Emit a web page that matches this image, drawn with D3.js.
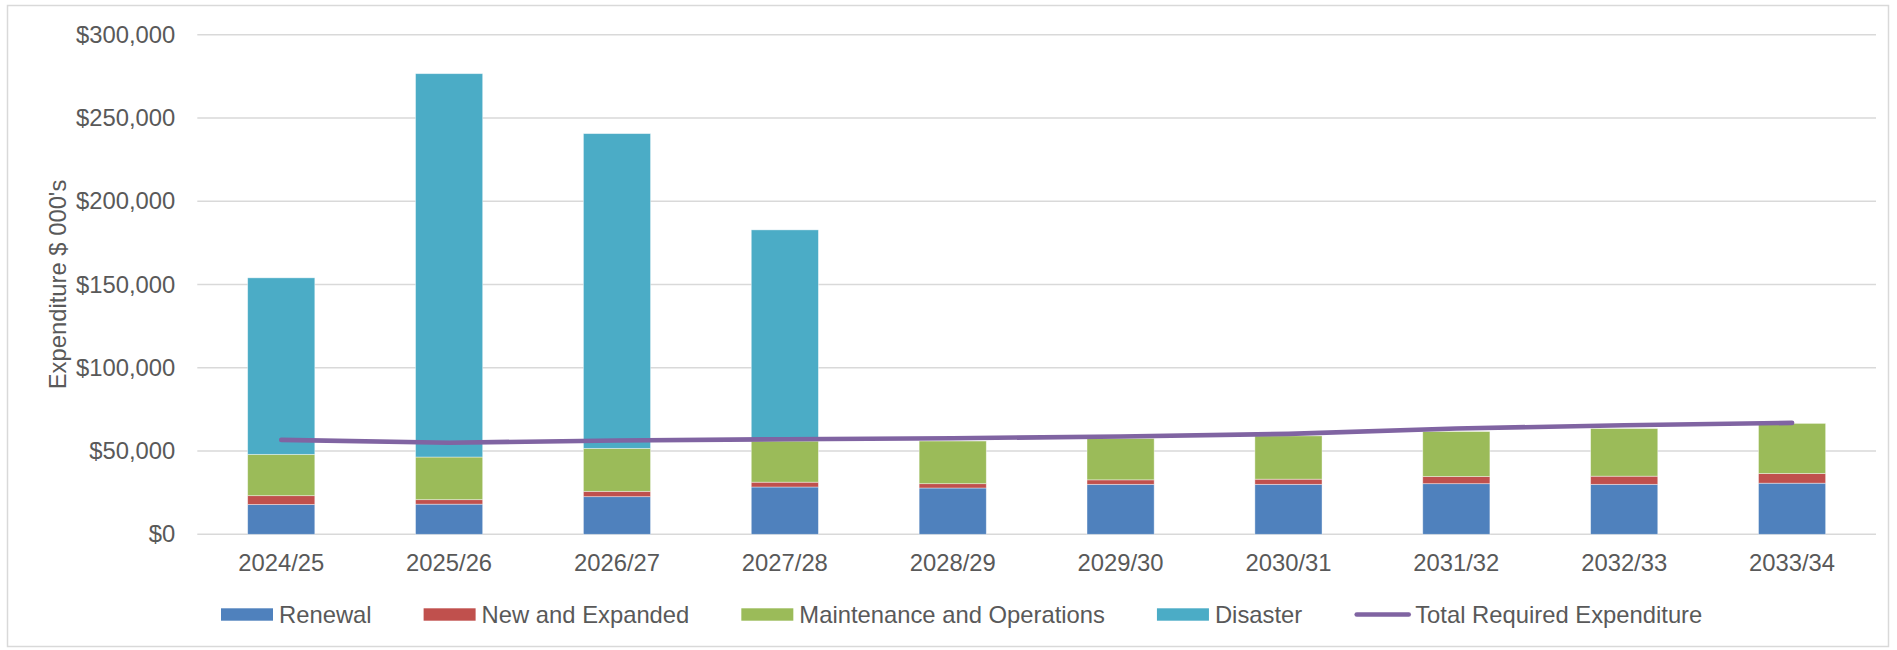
<!DOCTYPE html>
<html>
<head>
<meta charset="utf-8">
<script src="https://cdn.jsdelivr.net/npm/d3@7"></script>
<style>
  html, body { margin: 0; padding: 0; background: #fff; }
  svg { display: block; font-family: "Liberation Sans", Arial, Helvetica, sans-serif; }
</style>
</head>
<body>
<svg id="chart" width="1897" height="650"></svg>
<script>
// Financial years on the category axis
const years = ["2024/25", "2025/26", "2026/27", "2027/28", "2028/29",
               "2029/30", "2030/31", "2031/32", "2032/33", "2033/34"];

// Expenditure by type, $ 000's
const renewal     = [17900, 18100, 22600, 28400, 27800, 30000, 30000, 30400, 30000, 30700];
const newExpanded = [ 5300,  2700,  3200,  2900,  2600,  2700,  3100,  4300,  4900,  5800];
const maintOps    = [24800, 25600, 25800, 24700, 25600, 24800, 26000, 27000, 28600, 30100];
const disaster    = [106000, 230200, 189000, 126800, 0, 0, 0, 0, 0, 0];

// Total required expenditure line, $ 000's
const totalRequired = [56700, 55000, 56300, 57100, 57700, 58700, 60300, 63500, 65500, 66900];

// Value axis ticks
const yTicks = [0, 50000, 100000, 150000, 200000, 250000, 300000];

const seriesNames  = ["Renewal", "New and Expanded", "Maintenance and Operations", "Disaster"];
const seriesColors = ["#4f81bd", "#c0504d", "#9bbb59", "#4bacc6"];
const lineName  = "Total Required Expenditure";
const lineColor = "#8064a2";

const textColor = "#595959";
const fontSize = 23.8;

const svg = d3.select("#chart");
const W = 1897, H = 650;

// Chart area frame
svg.append("rect")
  .attr("x", 7.5).attr("y", 5.5)
  .attr("width", W - 16).attr("height", H - 9)
  .attr("fill", "#fff")
  .attr("stroke", "#d9d9d9")
  .attr("stroke-width", 1.5);

const plot = { left: 197.3, right: 1876, top: 34.7, bottom: 534.3 };

const x = d3.scaleBand()
  .domain(years)
  .range([plot.left, plot.right])
  .paddingInner(0.6)
  .paddingOuter(0.3);

const y = d3.scaleLinear()
  .domain([0, 300000])
  .range([plot.bottom, plot.top]);

// Horizontal gridlines
svg.append("g")
  .selectAll("line")
  .data(yTicks)
  .join("line")
  .attr("x1", plot.left).attr("x2", plot.right)
  .attr("y1", d => y(d)).attr("y2", d => y(d))
  .attr("stroke", "#d9d9d9")
  .attr("stroke-width", 1.6);

// Value axis labels
const yAxis = d3.axisLeft(y)
  .tickValues(yTicks)
  .tickFormat(d3.format("$,.0f"))
  .tickSize(0)
  .tickPadding(0);

const gy = svg.append("g")
  .attr("transform", `translate(${plot.left - 22},0)`)
  .call(yAxis);
gy.select(".domain").remove();
gy.selectAll("text")
  .attr("fill", textColor)
  .style("font-size", fontSize + "px")
  .style("font-family", "inherit");

// Category axis labels
const xAxis = d3.axisBottom(x).tickSize(0).tickPadding(0);
const gx = svg.append("g")
  .attr("transform", `translate(0,${plot.bottom})`)
  .call(xAxis);
gx.select(".domain").remove();
gx.selectAll("text")
  .attr("dy", null)
  .attr("y", 36.5)
  .attr("fill", textColor)
  .style("font-size", fontSize + "px")
  .style("font-family", "inherit");

// Axis title
svg.append("text")
  .attr("transform", `translate(66,${(plot.top + plot.bottom) / 2}) rotate(-90)`)
  .attr("text-anchor", "middle")
  .attr("fill", textColor)
  .style("font-size", fontSize + "px")
  .text("Expenditure $ 000's");

// Stacked bars
const table = years.map((yr, i) => ({
  year: yr,
  "Renewal": renewal[i],
  "New and Expanded": newExpanded[i],
  "Maintenance and Operations": maintOps[i],
  "Disaster": disaster[i]
}));

const stack = d3.stack().keys(seriesNames)(table);

svg.append("g")
  .selectAll("g")
  .data(stack)
  .join("g")
  .attr("fill", (d, i) => seriesColors[i])
  .selectAll("rect")
  .data(d => d.filter(p => p[1] - p[0] > 0))
  .join("rect")
  .attr("x", d => x(d.data.year))
  .attr("width", x.bandwidth())
  .attr("y", d => y(d[1]))
  .attr("height", d => y(d[0]) - y(d[1]))
  .attr("stroke", "#ffffff")
  .attr("stroke-opacity", 0.5)
  .attr("stroke-width", 0.8);

// Total required expenditure line
const line = d3.line()
  .x((d, i) => x(years[i]) + x.bandwidth() / 2)
  .y(d => y(d));

svg.append("path")
  .datum(totalRequired)
  .attr("d", line)
  .attr("fill", "none")
  .attr("stroke", lineColor)
  .attr("stroke-width", 4.6)
  .attr("stroke-linecap", "round")
  .attr("stroke-linejoin", "round");

// Legend
const legend = svg.append("g").attr("transform", "translate(221,614.5)");
const items = seriesNames.map((n, i) => ({ name: n, color: seriesColors[i], type: "rect" }))
  .concat([{ name: lineName, color: lineColor, type: "line" }]);

let cx = 0;
items.forEach(it => {
  const g = legend.append("g").attr("transform", `translate(${cx},0)`);
  if (it.type === "rect") {
    g.append("rect")
      .attr("x", 0).attr("y", -6.2)
      .attr("width", 52).attr("height", 12.4)
      .attr("fill", it.color);
  } else {
    g.append("line")
      .attr("x1", 2.5).attr("x2", 54.5)
      .attr("y1", 0).attr("y2", 0)
      .attr("stroke", it.color)
      .attr("stroke-width", 4.6)
      .attr("stroke-linecap", "round");
  }
  const t = g.append("text")
    .attr("x", it.type === "rect" ? 58 : 61)
    .attr("y", 0)
    .attr("dy", "0.35em")
    .attr("fill", textColor)
    .style("font-size", fontSize + "px")
    .text(it.name);
  cx += (it.type === "rect" ? 58 : 61) + t.node().getComputedTextLength() + 52;
});
</script>
</body>
</html>
